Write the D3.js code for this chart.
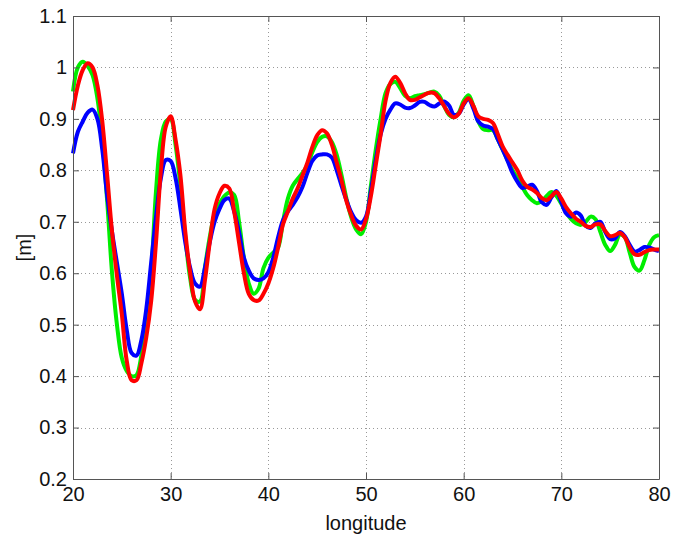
<!DOCTYPE html>
<html>
<head>
<meta charset="utf-8">
<script src="https://cdn.jsdelivr.net/npm/d3@7"></script>
<style>
  body { margin: 0; background: #fff; }
  svg { display: block; font-family: 'Liberation Sans', Arial, Helvetica, sans-serif; }
</style>
</head>
<body>
<svg id="chart" width="673" height="537"></svg>
<script>
'use strict';

// longitude samples (degrees)
var longitude = d3.range(20, 80.001, 0.5).map(function (v) { return +v.toFixed(1); });

var greenValues = [
    0.953, 1.000, 1.011, 1.003, 0.985, 0.940, 0.860, 0.740, 0.600, 0.500,
    0.435, 0.410, 0.400, 0.402, 0.440, 0.510, 0.600, 0.760, 0.860, 0.895,
    0.900, 0.850, 0.770, 0.670, 0.590, 0.548, 0.545, 0.610, 0.670, 0.715,
    0.735, 0.750, 0.757, 0.752, 0.700, 0.630, 0.580, 0.560, 0.570, 0.610,
    0.630, 0.640, 0.650, 0.700, 0.745, 0.770, 0.783, 0.795, 0.810, 0.835,
    0.855, 0.865, 0.866, 0.855, 0.830, 0.790, 0.745, 0.708, 0.685, 0.676,
    0.700, 0.770, 0.840, 0.900, 0.950, 0.968, 0.972, 0.960, 0.945, 0.940,
    0.944, 0.946, 0.948, 0.951, 0.953, 0.945, 0.925, 0.908, 0.903, 0.912,
    0.935, 0.946, 0.925, 0.895, 0.880, 0.878, 0.878, 0.860, 0.840, 0.820,
    0.800, 0.785, 0.768, 0.752, 0.742, 0.736, 0.740, 0.750, 0.758, 0.750,
    0.735, 0.718, 0.705, 0.697, 0.694, 0.700, 0.710, 0.705, 0.680, 0.655,
    0.643, 0.655, 0.675, 0.670, 0.640, 0.612, 0.605, 0.625, 0.655, 0.670,
    0.674
];

var blueValues = [
    0.833, 0.875, 0.895, 0.912, 0.918, 0.900, 0.840, 0.750, 0.680, 0.620,
    0.560, 0.490, 0.445, 0.440, 0.470, 0.530, 0.620, 0.710, 0.785, 0.820,
    0.818, 0.785, 0.725, 0.660, 0.610, 0.580, 0.574, 0.610, 0.660, 0.700,
    0.725, 0.742, 0.745, 0.720, 0.680, 0.630, 0.605, 0.590, 0.587, 0.590,
    0.602, 0.630, 0.670, 0.703, 0.720, 0.733, 0.748, 0.768, 0.795, 0.818,
    0.829, 0.831, 0.831, 0.825, 0.800, 0.770, 0.742, 0.718, 0.703, 0.698,
    0.710, 0.760, 0.820, 0.870, 0.900, 0.918, 0.930, 0.928, 0.922, 0.921,
    0.926, 0.933, 0.933, 0.927, 0.924, 0.930, 0.934, 0.926, 0.908, 0.910,
    0.928, 0.938, 0.920, 0.895, 0.887, 0.885, 0.880, 0.860, 0.840, 0.818,
    0.795, 0.778, 0.766, 0.768, 0.772, 0.760, 0.738, 0.733, 0.748, 0.760,
    0.738, 0.716, 0.710, 0.718, 0.712, 0.692, 0.688, 0.697, 0.700, 0.680,
    0.666, 0.668, 0.680, 0.672, 0.655, 0.642, 0.645, 0.651, 0.650, 0.646,
    0.643
];

var redValues = [
    0.917, 0.965, 0.995, 1.008, 1.000, 0.965, 0.895, 0.790, 0.680, 0.595,
    0.520, 0.430, 0.392, 0.392, 0.425, 0.475, 0.545, 0.660, 0.800, 0.885,
    0.905, 0.860, 0.790, 0.680, 0.600, 0.545, 0.530, 0.585, 0.660, 0.725,
    0.755, 0.770, 0.765, 0.720, 0.660, 0.600, 0.560, 0.548, 0.547, 0.560,
    0.580, 0.610, 0.650, 0.695, 0.720, 0.745, 0.765, 0.790, 0.815, 0.845,
    0.868, 0.878, 0.872, 0.850, 0.815, 0.780, 0.740, 0.712, 0.692, 0.685,
    0.705, 0.750, 0.810, 0.870, 0.935, 0.970, 0.982, 0.970, 0.950, 0.937,
    0.937, 0.942, 0.947, 0.951, 0.950, 0.940, 0.925, 0.910, 0.903, 0.910,
    0.930, 0.940, 0.925, 0.905, 0.900, 0.898, 0.892, 0.870, 0.846, 0.830,
    0.815, 0.800, 0.780, 0.768, 0.763, 0.756, 0.746, 0.742, 0.750, 0.758,
    0.745, 0.728, 0.716, 0.706, 0.700, 0.692, 0.690, 0.695, 0.695, 0.682,
    0.672, 0.674, 0.678, 0.670, 0.650, 0.637, 0.636, 0.641, 0.645, 0.646,
    0.646
];

var xTicks = [20, 30, 40, 50, 60, 70, 80];
var yTicks = [0.2, 0.3, 0.4, 0.5, 0.6, 0.7, 0.8, 0.9, 1, 1.1];

var series = [
    { name: 'green', color: '#00ee00', values: greenValues },
    { name: 'blue', color: '#0000ff', values: blueValues },
    { name: 'red', color: '#ff0000', values: redValues }
];

var margin = { top: 16, right: 14, bottom: 58, left: 73 },
    width = 673 - margin.left - margin.right,
    height = 537 - margin.top - margin.bottom;

var svg = d3.select('#chart');
var g = svg.append('g')
    .attr('transform', 'translate(' + margin.left + ',' + margin.top + ')');

var x = d3.scaleLinear().domain([20, 80]).range([0, width]);
var y = d3.scaleLinear().domain([0.2, 1.1]).range([height, 0]);

function gridStyle(sel) {
    sel.attr('stroke', '#999')
        .attr('stroke-width', 1)
        .attr('stroke-dasharray', '1,3')
        .attr('shape-rendering', 'crispEdges');
}

// dotted grid
g.append('g').selectAll('line')
    .data(xTicks.slice(1, -1))
    .enter().append('line')
    .attr('x1', function (d) { return Math.round(x(d)) + 0.5; })
    .attr('x2', function (d) { return Math.round(x(d)) + 0.5; })
    .attr('y1', 0).attr('y2', height)
    .call(gridStyle);

g.append('g').selectAll('line')
    .data(yTicks.slice(1, -1))
    .enter().append('line')
    .attr('y1', function (d) { return Math.round(y(d)) + 0.5; })
    .attr('y2', function (d) { return Math.round(y(d)) + 0.5; })
    .attr('x1', 0).attr('x2', width)
    .call(gridStyle);

// lines
var line = d3.line()
    .x(function (d) { return x(d[0]); })
    .y(function (d) { return y(d[1]); })
    .curve(d3.curveCatmullRom.alpha(0.5));

g.append('g').selectAll('path')
    .data(series)
    .enter().append('path')
    .attr('fill', 'none')
    .attr('stroke', function (d) { return d.color; })
    .attr('stroke-width', 4)
    .attr('stroke-linejoin', 'round')
    .attr('d', function (d) {
        return line(longitude.map(function (lon, i) { return [lon, d.values[i]]; }));
    });

// axes (MATLAB style: inward ticks on all four sides)
var tickLen = 6;
var axisColor = '#555';

var axisBottomG = g.append('g').attr('transform', 'translate(0,' + height + ')')
    .call(d3.axisBottom(x).tickValues(xTicks).tickSizeInner(-tickLen).tickSizeOuter(0).tickPadding(10));
var axisTopG = g.append('g')
    .call(d3.axisTop(x).tickValues(xTicks).tickSizeInner(-tickLen).tickSizeOuter(0).tickFormat(''));
var axisLeftG = g.append('g')
    .call(d3.axisLeft(y).tickValues(yTicks).tickSizeInner(-tickLen).tickSizeOuter(0).tickPadding(6)
        .tickFormat(d3.format('')));
var axisRightG = g.append('g').attr('transform', 'translate(' + width + ',0)')
    .call(d3.axisRight(y).tickValues(yTicks).tickSizeInner(-tickLen).tickSizeOuter(0).tickFormat(''));

[axisBottomG, axisTopG, axisLeftG, axisRightG].forEach(function (a) {
    a.select('.domain').attr('stroke', axisColor);
    a.selectAll('.tick line').attr('stroke', axisColor);
    a.selectAll('text')
        .attr('fill', '#111')
        .style('font-size', '20px')
        .style('font-family', "'Liberation Sans', Arial, sans-serif");
});
axisBottomG.selectAll('text').attr('dy', '0.6em');

// axis labels
svg.append('text')
    .attr('x', margin.left + width / 2)
    .attr('y', 530)
    .attr('text-anchor', 'middle')
    .style('font-size', '20px')
    .attr('fill', '#111')
    .text('longitude');

svg.append('text')
    .attr('transform', 'translate(31,' + (margin.top + height / 2) + ') rotate(-90)')
    .attr('text-anchor', 'middle')
    .style('font-size', '20px')
    .attr('fill', '#111')
    .text('[m]');
</script>
</body>
</html>
